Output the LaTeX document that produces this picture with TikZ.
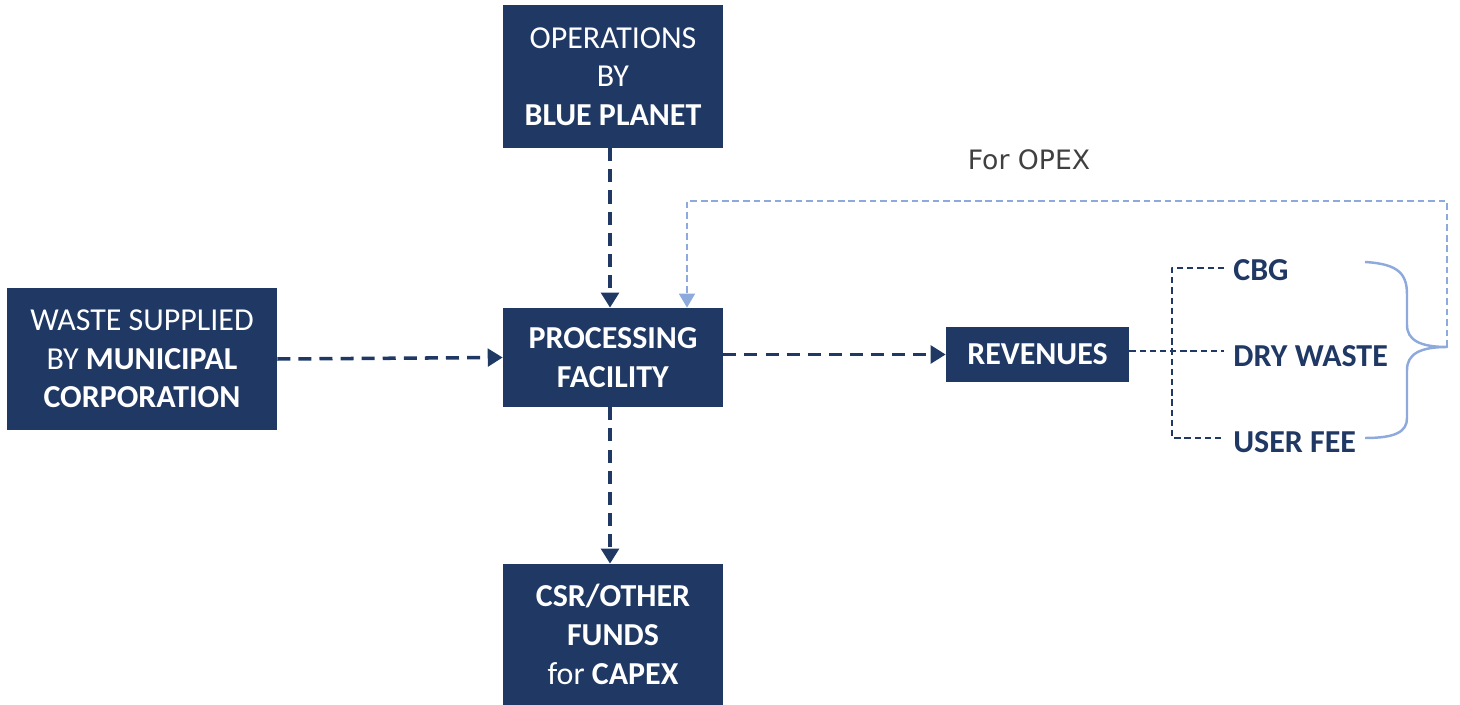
\documentclass[tikz,border=0pt]{standalone}
\usepackage{fontspec}
\setmainfont{Carlito}
\newfontfamily\notefont{DejaVu Sans}
\usetikzlibrary{arrows.meta}
\definecolor{navy}{HTML}{1F3864}
\definecolor{skyline}{HTML}{8EA9DB}
\definecolor{notegray}{HTML}{404040}
\begin{document}
\begin{tikzpicture}[x=0.02cm, y=-0.02cm, >={Triangle[width=10pt,length=8.5pt]},
    font=\fontsize{18.2}{22}\selectfont, line join=round,
    block/.style={fill=navy, text=white, align=center, inner sep=0pt},
    flow/.style={->, navy, line width=2pt, dash pattern=on 7.4pt off 4.6pt},
    branch/.style={navy, line width=1.3pt, dash pattern=on 3.6pt off 2.2pt},
    feedback/.style={skyline, line width=1.4pt, dash pattern=on 3.8pt off 2.2pt},
    item/.style={navy, font=\fontsize{18.2}{22}\selectfont\bfseries, anchor=west, inner sep=0pt}]
    \useasboundingbox (0,0) rectangle (1460,705);
    % boxes
    \node[block, minimum width=4.4cm, minimum height=2.86cm] (ops) at (613,76.5)
        {OPERATIONS\\BY\\\textbf{BLUE PLANET}};
    \node[block, minimum width=5.4cm, minimum height=2.84cm] (waste) at (142,359)
        {WASTE SUPPLIED\\BY \textbf{MUNICIPAL}\\\textbf{CORPORATION}};
    \node[block, minimum width=4.4cm, minimum height=1.98cm] (proc) at (613,357.5)
        {\textbf{PROCESSING}\\\textbf{FACILITY}};
    \node[block, minimum width=3.66cm, minimum height=1.1cm] (rev) at (1037.5,354.5)
        {\textbf{REVENUES}};
    \node[block, minimum width=4.4cm, minimum height=2.82cm] (csr) at (613,634.5)
        {\textbf{CSR/OTHER}\\\textbf{FUNDS}\\for \textbf{CAPEX}};
    % revenue streams
    \node[item] (cbg) at (1233,270) {CBG};
    \node[item] (dry) at (1233,356) {DRY WASTE};
    \node[item] (fee) at (1233,442) {USER FEE};
    \node[notegray, font=\fontsize{15.2}{18}\selectfont\notefont, inner sep=0pt] (opex) at (1029,160) {For OPEX};
    \coordinate (fork) at (1172,351);
    \coordinate (cbgend) at (1224,268);
    \coordinate (dryend) at (1224,351);
    \coordinate (feeend) at (1224,438);
    \coordinate (tip) at (1447,347);
    \coordinate (top) at (1447,201);
    % main flows
    \draw[flow] ([xshift=-1.7pt]ops.south) -- ([xshift=-1.7pt]proc.north);
    \draw[flow] (waste.east) -- (proc.west);
    \draw[flow] (proc.east |- rev.west) -- (rev.west);
    \draw[flow] ([xshift=-1.7pt]proc.south) -- ([xshift=-1.7pt]csr.north);
    % branches to the streams
    \draw[branch] (rev.east |- dryend) -- (dryend);
    \draw[branch] (cbgend) -- (cbgend -| fork) -- (feeend -| fork) -- (feeend);
    % brace and loop back for opex
    \draw[skyline, line width=1.4pt] (1365,262) .. controls (1400,264) and (1407,275) .. (1407,295)
        -- (1407,325) .. controls (1407,340) and (1420,347) .. (tip)
        .. controls (1420,347) and (1407,354) .. (1407,370)
        -- (1407,418) .. controls (1407,432) and (1395,438) .. (1365,438);
    \draw[feedback, ->, >={Triangle[width=9pt,length=8pt]}] (tip) -- (top) -- (top -| 687,0) -- (proc.north -| 687,0);
\end{tikzpicture}
\end{document}
